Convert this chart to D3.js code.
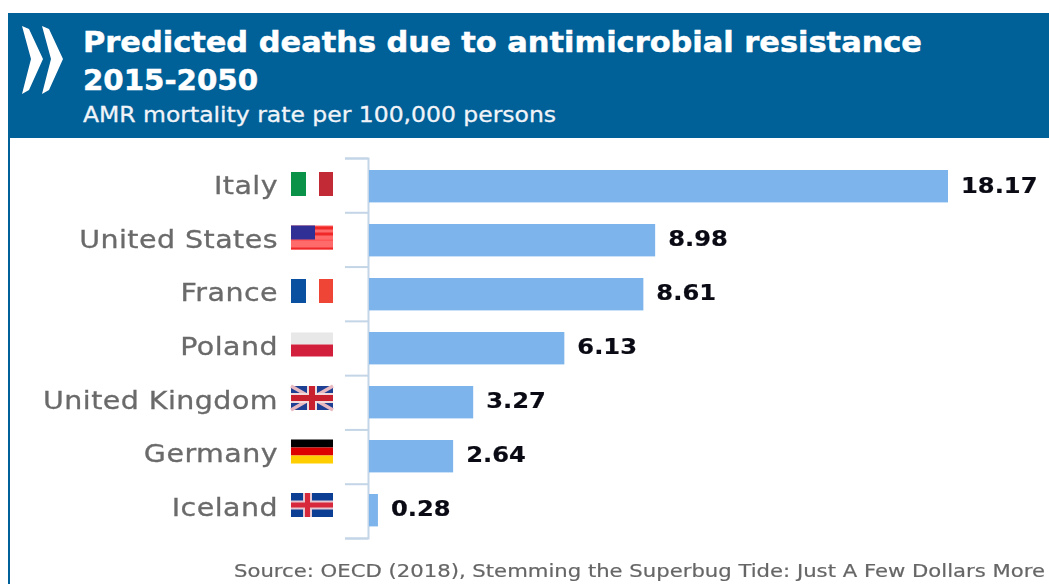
<!DOCTYPE html>
<html><head><meta charset="utf-8">
<script src="https://cdn.jsdelivr.net/npm/d3@7"></script>
<style>html,body{margin:0;padding:0;background:#fff;overflow:hidden}svg{display:block;filter:blur(0.45px)}text{font-family:"DejaVu Sans",sans-serif}</style>
</head><body><svg id="c" width="1049" height="584"></svg>
<script>
const categories=["Italy","United States","France","Poland","United Kingdom","Germany","Iceland"];
const values=[18.17,8.98,8.61,6.13,3.27,2.64,0.28];
const valueLabels=["18.17","8.98","8.61","6.13","3.27","2.64","0.28"];
const flagCodes=["it","us","fr","pl","uk","de","is"];
const titleLines=["Predicted deaths due to antimicrobial resistance","2015-2050"];
const subtitle="AMR mortality rate per 100,000 persons";
const source="Source: OECD (2018), Stemming the Superbug Tide: Just A Few Dollars More";

const svg=d3.select("#c");
const navy="#006098", bar="#7cb4eb", axisC="#c3d5e6";
svg.append("rect").attr("x",8).attr("y",13).attr("width",1041).attr("height",125).attr("fill",navy);
svg.append("rect").attr("x",8).attr("y",138).attr("width",2).attr("height",446).attr("fill",navy);

// logo chevrons
[0,20].forEach(dx=>svg.append("path")
  .attr("d",`M${22+dx} 26 L${29+dx} 29 L${43+dx} 59 L${29+dx} 90 L${22+dx} 94 L${31+dx} 59 Z`).attr("fill","#fff"));

function fit(sel,x,base,w){ // stretch text horizontally to the picture's width
  sel.attr("text-anchor","start").attr("textLength",w).attr("lengthAdjust","spacingAndGlyphs")
     .attr("x",x).attr("y",base);
  return sel;
}
const tw=[839,175];
titleLines.forEach((t,i)=>fit(svg.append("text").text(t).attr("fill","#fff").attr("stroke","#fff").attr("stroke-width",0.5).attr("font-weight","bold").attr("font-size",29),83,[52,90][i],tw[i]));
fit(svg.append("text").text(subtitle).attr("fill","#f0f4f8").attr("stroke","#f0f4f8").attr("stroke-width",0.3).attr("font-size",21),83,122,473);

const x=d3.scaleLinear().domain([0,18.17]).range([369,948]);
const y=d3.scaleBand().domain(categories).range([159.2,537.2]).paddingInner(0.4).paddingOuter(0.2);
const labelY=d3.scalePoint().domain(categories).range([185,507]);
const flagY=d3.scalePoint().domain(categories).range([184,505]);
const valueY=d3.scalePoint().domain(categories).range([184.5,507.5]);

// category axis
const axis=d3.axisLeft(d3.scaleLinear().domain([0,categories.length]).range([158,538]))
  .ticks(categories.length).tickSize(23).tickFormat("").tickSizeOuter(23);
const gA=svg.append("g").attr("transform","translate(368,0)").call(axis);
gA.selectAll("path,line").attr("stroke",axisC).attr("stroke-width",2);

svg.selectAll("rect.bar").data(values).join("rect").attr("class","bar")
  .attr("x",x(0)).attr("y",(d,i)=>y(categories[i])).attr("width",d=>x(d)-x(0))
  .attr("height",y.bandwidth()).attr("fill",bar);

const labelScale=1.14, valueScale=1.1;
svg.selectAll("text.cat").data(categories).join("text").attr("class","cat")
  .text(d=>d).attr("text-anchor","end").attr("fill","#6a6a6a").attr("stroke","#6a6a6a").attr("stroke-width",0.3)
  .attr("font-size",25).attr("letter-spacing",0.4)
  .attr("transform",d=>`translate(278,${labelY(d)+9}) scale(${labelScale},1)`);

svg.selectAll("text.val").data(values).join("text").attr("class","val")
  .text((d,i)=>valueLabels[i]).attr("fill","#0a0a14").attr("stroke","#0a0a14").attr("stroke-width",0.2)
  .attr("font-weight","bold").attr("font-size",22)
  .attr("transform",(d,i)=>`translate(${x(d)+13},${valueY(categories[i])+8}) scale(${valueScale},1)`);

// flags
function flag(g,code){
  const W=42,H=24,r=(a,b,c,d,f)=>g.append("rect").attr("x",a).attr("y",b).attr("width",c).attr("height",d).attr("fill",f);
  if(code==="it"){r(0,0,15,H,"#0a9348");r(28,0,14,H,"#c22a36");}
  if(code==="fr"){r(0,0,15,H,"#0a50a0");r(28,0,14,H,"#ef4536");}
  if(code==="pl"){r(0,0,W,12,"#e8e8e8");r(0,12,W,12,"#d21f3c");}
  if(code==="de"){r(0,0,W,8,"#000");r(0,8,W,8,"#dd0000");r(0,16,W,8,"#ffce00");}
  if(code==="us"){
    r(0,0,W,H,"#ff6a6a");
    r(24,1,18,3,"#f02828");r(24,7,18,3,"#f02828");r(0,14,W,1.5,"#f55");r(0,22,W,2,"#f02828");
    r(0,0,24,14,"#2f2f96");
  }
  if(code==="uk"){
    r(0,0,W,H,"#1d3f94");
    g.append("path").attr("d",`M0 0L${W} ${H}M${W} 0L0 ${H}`).attr("stroke","#e8b8c0").attr("stroke-width",3.5);
    r(16,0,10,H,"#f2dada");r(0,7,W,10,"#f2dada");
    r(18,0,6,H,"#c8202f");r(0,9,W,6,"#c8202f");
  }
  if(code==="is"){
    r(0,0,W,H,"#0c3f93");
    r(12,0,9,H,"#e8c8d0");r(0,7.5,W,9,"#e8c8d0");
    r(14,0,5,H,"#d8283c");r(0,9.5,W,5,"#d8283c");
  }
}
categories.forEach((c,i)=>{
  const g=svg.append("g").attr("transform",`translate(291,${flagY(c)-12})`);
  flag(g,flagCodes[i]);
});

fit(svg.append("text").text(source).attr("fill","#666").attr("stroke","#666").attr("stroke-width",0.2).attr("font-size",18),234,577,811);
</script></body></html>
